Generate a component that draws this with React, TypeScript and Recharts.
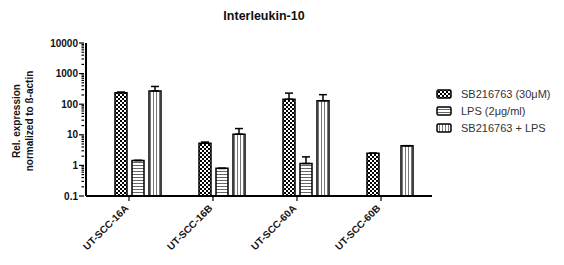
import React from "react";
import {
  BarChart,
  Bar,
  XAxis,
  YAxis,
  ErrorBar,
} from "recharts";

const categories = ["UT-SCC-16A", "UT-SCC-16B", "UT-SCC-60A", "UT-SCC-60B"];
const sbValues = [235, 5.3, 145, 2.5];
const sbErrors = [15, 0.5, 85, 0];
const lpsValues = [1.45, 0.8, 1.15, null];
const lpsErrors = [0, 0, 0.75, 0];
const comboValues = [270, 10.5, 130, 4.4];
const comboErrors = [110, 5.5, 75, 0];
const majorTicks = [0.1, 1, 10, 100, 1000, 10000];

const seriesNames = ["SB216763 (30\u03bcM)", "LPS (2\u03bcg/ml)", "SB216763 + LPS"];

// log-scale minor ticks, like the GraphPad axis
const minorTicks: number[] = [];
majorTicks.slice(0, -1).forEach((d) => {
  for (let k = 2; k <= 9; k++) minorTicks.push(+(d * k).toPrecision(3));
});

const data = categories.map((name, i) => ({
  name,
  sb: sbValues[i],
  sbErr: [0, sbErrors[i]],
  lps: lpsValues[i],
  lpsErr: [0, lpsErrors[i]],
  combo: comboValues[i],
  comboErr: [0, comboErrors[i]],
}));

const FONT = "'Liberation Sans', Arial, sans-serif";
const TICK_SHIFT = -9;

const YTick = ({ x, y, payload }: any) => {
  const major = majorTicks.includes(payload.value);
  return (
    <g>
      <line
        x1={x + 6}
        x2={x + 6 - (major ? 5 : 2.5)}
        y1={y}
        y2={y}
        stroke="#000"
        strokeWidth={1.2}
      />
      {major && (
        <text
          x={x}
          y={y}
          dy={3.5}
          textAnchor="end"
          fontSize={10}
          fontWeight="bold"
          fontFamily={FONT}
          fill="#111"
        >
          {payload.value}
        </text>
      )}
    </g>
  );
};

const XTick = ({ x, y, payload }: any) => {
  const tx = x + TICK_SHIFT;
  return (
    <g>
      <line x1={tx} x2={tx} y1={y - 8} y2={y - 3} stroke="#000" strokeWidth={1.2} />
      <g transform={`translate(${tx}, ${y + 5}) rotate(-45)`}>
        <text
          x={0}
          y={0}
          textAnchor="end"
          fontSize={10}
          fontWeight="bold"
          fontFamily={FONT}
          fill="#111"
        >
          {payload.value}
        </text>
      </g>
    </g>
  );
};

export default function App() {
  return (
    <div style={{ position: "absolute", left: 0, top: 0, width: 564, height: 265, background: "#fff", overflow: "hidden" }}>
      <svg width={0} height={0} style={{ position: "absolute" }}>
        <defs>
          <pattern id="pat0" width={4} height={4} patternUnits="userSpaceOnUse">
            <rect width={4} height={4} fill="#fff" />
            <rect x={0} y={0} width={2} height={2} fill="#000" />
            <rect x={2} y={2} width={2} height={2} fill="#000" />
          </pattern>
          <pattern id="pat1" width={4} height={3} patternUnits="userSpaceOnUse">
            <rect width={4} height={3} fill="#fff" />
            <rect y={0} width={4} height={1} fill="#666" />
          </pattern>
          <pattern id="pat2" width={3} height={4} patternUnits="userSpaceOnUse">
            <rect width={3} height={4} fill="#fff" />
            <rect x={0} width={1} height={4} fill="#777" />
          </pattern>
        </defs>
      </svg>
      <div
        style={{
          position: "absolute",
          top: 9,
          left: 0,
          width: 528,
          textAlign: "center",
          fontFamily: FONT,
          fontWeight: "bold",
          fontSize: 12.5,
          color: "#111",
        }}
      >
        Interleukin-10
      </div>
      <div
        style={{
          position: "absolute",
          left: 23,
          top: 121,
          transform: "translate(-50%, -50%) rotate(-90deg)",
          fontFamily: FONT,
          fontWeight: "bold",
          fontSize: 10,
          lineHeight: "13px",
          textAlign: "center",
          whiteSpace: "nowrap",
          color: "#111",
        }}
      >
        Rel. expression
        <br />
        normalized to ß-actin
      </div>
      <div
        style={{
          position: "absolute",
          left: 436,
          top: 85,
          fontFamily: FONT,
          fontSize: 11,
          color: "#333",
        }}
      >
        {seriesNames.map((n, i) => (
          <div
            key={n}
            style={{ display: "flex", alignItems: "center", height: 17, whiteSpace: "nowrap" }}
          >
            <svg width={16} height={10} style={{ marginRight: 9 }}>
              <rect
                x={1}
                y={1}
                width={14}
                height={8}
                rx={1.5}
                fill={`url(#pat${i})`}
                stroke="#000"
                strokeWidth={1.5}
              />
            </svg>
            {n}
          </div>
        ))}
      </div>
      <BarChart
        width={564}
        height={265}
        data={data}
        margin={{ top: 43, right: 132, bottom: 9, left: 26 }}
        barSize={12}
        barGap={5}
        style={{ position: "absolute", left: 0, top: 0 }}
      >
        <XAxis
          dataKey="name"
          height={60}
          padding={{ left: 10, right: 0 }}
          axisLine={{ stroke: "#000", strokeWidth: 2 }}
          tickLine={false}
          tick={<XTick />}
          interval={0}
        />
        <YAxis
          scale="log"
          domain={[0.1, 10000]}
          ticks={[...majorTicks, ...minorTicks].sort((a, b) => a - b)}
          width={60}
          interval={0}
          allowDataOverflow
          axisLine={{ stroke: "#000", strokeWidth: 2 }}
          tickLine={false}
          tick={<YTick />}
        />
        <Bar dataKey="sb" fill="url(#pat0)" stroke="#000" strokeWidth={1.5} isAnimationActive={false}>
          <ErrorBar dataKey="sbErr" width={4} stroke="#000" strokeWidth={1.5} />
        </Bar>
        <Bar dataKey="lps" fill="url(#pat1)" stroke="#000" strokeWidth={1.5} isAnimationActive={false}>
          <ErrorBar dataKey="lpsErr" width={4} stroke="#000" strokeWidth={1.5} />
        </Bar>
        <Bar dataKey="combo" fill="url(#pat2)" stroke="#000" strokeWidth={1.5} isAnimationActive={false}>
          <ErrorBar dataKey="comboErr" width={4} stroke="#000" strokeWidth={1.5} />
        </Bar>
      </BarChart>
    </div>
  );
}
